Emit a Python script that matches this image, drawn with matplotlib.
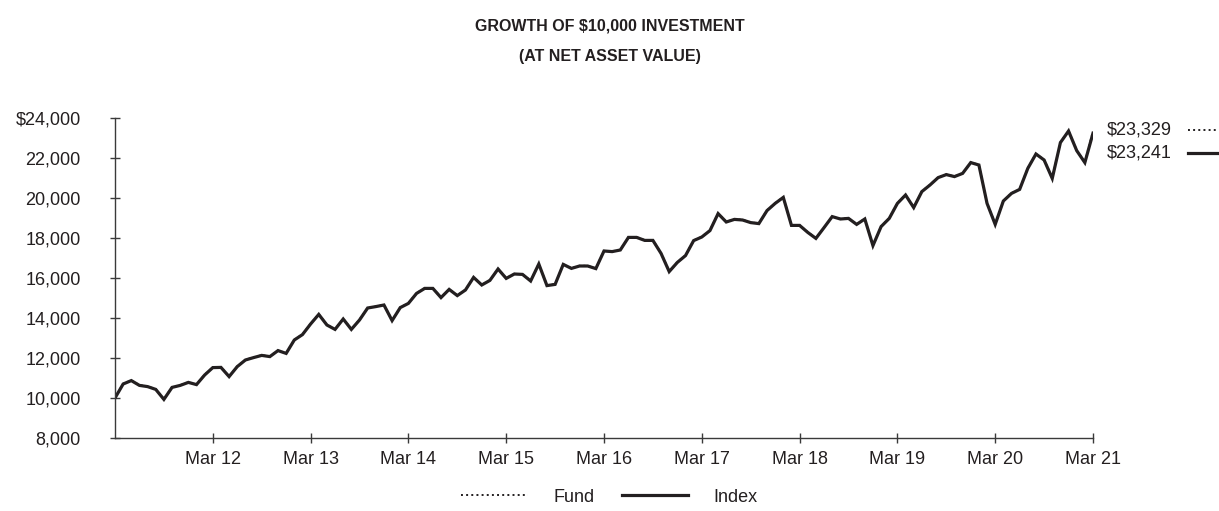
import matplotlib.pyplot as plt
from matplotlib.lines import Line2D

plt.rcParams['font.family'] = ['Liberation Sans', 'DejaVu Sans']
ink = '#231f20'

# month-end values, Mar 2011 .. Mar 2021 (121 months)
index_vals = [
    10000, 10700, 10870, 10630, 10570, 10430, 9930, 10530, 10630, 10780, 10670, 11150,
    11520, 11530, 11070, 11570, 11900, 12020, 12130, 12070, 12370, 12230, 12900, 13170,
    13700, 14180, 13650, 13430, 13950, 13430, 13900, 14500, 14570, 14650, 13870, 14520,
    14730, 15230, 15480, 15480, 15020, 15430, 15120, 15400, 16030, 15650, 15880, 16450,
    15980, 16200, 16180, 15850, 16700, 15620, 15680, 16680, 16480, 16600, 16600, 16470,
    17350, 17320, 17400, 18030, 18030, 17880, 17880, 17230, 16320, 16780, 17120, 17870,
    18050, 18370, 19220, 18800, 18930, 18900, 18770, 18720, 19370, 19730, 20030, 18630,
    18630, 18280, 17980, 18520, 19070, 18950, 18980, 18680, 18950, 17620, 18570, 18980,
    19730, 20150, 19520, 20320, 20650, 21020, 21170, 21070, 21230, 21770, 21650, 19730,
    18680, 19850, 20230, 20430, 21480, 22200, 21900, 20980, 22770, 23350, 22370, 21770,
    23241,
]
fund_vals = [
    10000, 10710, 10880, 10640, 10580, 10440, 9940, 10540, 10640, 10790, 10680, 11160,
    11530, 11540, 11080, 11580, 11910, 12030, 12140, 12080, 12380, 12240, 12910, 13180,
    13710, 14190, 13660, 13440, 13960, 13440, 13910, 14510, 14580, 14660, 13880, 14530,
    14740, 15240, 15490, 15490, 15030, 15440, 15130, 15410, 16040, 15660, 15890, 16460,
    15990, 16210, 16190, 15860, 16710, 15630, 15690, 16690, 16490, 16610, 16610, 16480,
    17360, 17330, 17410, 18040, 18040, 17890, 17890, 17240, 16330, 16790, 17130, 17880,
    18060, 18380, 19230, 18810, 18940, 18910, 18780, 18730, 19380, 19740, 20040, 18640,
    18640, 18290, 17990, 18530, 19080, 18960, 18990, 18690, 18960, 17630, 18580, 18990,
    19740, 20160, 19530, 20330, 20660, 21030, 21180, 21080, 21240, 21780, 21660, 19740,
    18690, 19860, 20240, 20440, 21490, 22210, 21910, 20990, 22780, 23360, 22380, 21780,
    23329,
]
tick_labels = ['Mar 12', 'Mar 13', 'Mar 14', 'Mar 15', 'Mar 16',
               'Mar 17', 'Mar 18', 'Mar 19', 'Mar 20', 'Mar 21']
y_ticks = [8000, 10000, 12000, 14000, 16000, 18000, 20000, 22000, 24000]

fs = 13
fig = plt.figure(figsize=(12.19, 5.11), dpi=100)
ax = fig.add_axes([115 / 1219, 1 - 438 / 511, (1093 - 115) / 1219, 320 / 511])

months = range(len(index_vals))
ax.plot(months, fund_vals, color=ink, lw=1.4, ls=':')
ax.plot(months, index_vals, color=ink, lw=2.3, solid_joinstyle='miter')

ax.set_xlim(0, 120)
ax.set_ylim(8000, 24000)
ax.set_xticks(range(12, 121, 12))
ax.set_xticklabels(tick_labels)
ax.set_yticks(y_ticks)
ax.set_yticklabels(['$24,000' if v == 24000 else f'{v:,}' for v in y_ticks])

for s in ('top', 'right'):
    ax.spines[s].set_visible(False)
for s in ('left', 'bottom'):
    ax.spines[s].set_color('#3a3a3a')
    ax.spines[s].set_linewidth(1.0)
ax.tick_params(axis='both', direction='inout', length=6.5, width=1.0,
               color='#3a3a3a', labelsize=fs, labelcolor=ink)
ax.tick_params(axis='y', pad=21.5)
ax.tick_params(axis='x', pad=6)

fig.text(0.5, 1 - 26 / 511, 'GROWTH OF $10,000 INVESTMENT', ha='center', va='center',
         fontsize=11.5, fontweight='bold', color=ink)
fig.text(0.5, 1 - 56 / 511, '(AT NET ASSET VALUE)', ha='center', va='center',
         fontsize=11.5, fontweight='bold', color=ink)

# ending values at right edge
fig.text(1107 / 1219, 1 - 130 / 511, '$23,329', ha='left', va='center',
         fontsize=fs, color=ink)
fig.text(1107 / 1219, 1 - 153 / 511, '$23,241', ha='left', va='center',
         fontsize=fs, color=ink)
fig.add_artist(Line2D([1188 / 1219, 1216 / 1219], [1 - 130 / 511] * 2,
                      color=ink, lw=1.4, ls=':', transform=fig.transFigure))
fig.add_artist(Line2D([1188 / 1219, 1218 / 1219], [1 - 153 / 511] * 2,
                      color=ink, lw=2.3, transform=fig.transFigure))

handles = [Line2D([], [], color=ink, lw=1.4, ls=':'),
           Line2D([], [], color=ink, lw=2.3)]
fig.legend(handles, ['Fund', 'Index'], loc='center', bbox_to_anchor=(0.5, 1 - 497 / 511),
           ncol=2, frameon=False, fontsize=fs, handlelength=3.7, handletextpad=1.4,
           columnspacing=1.5, labelcolor=ink)

fig.savefig('out.png', dpi=100)
